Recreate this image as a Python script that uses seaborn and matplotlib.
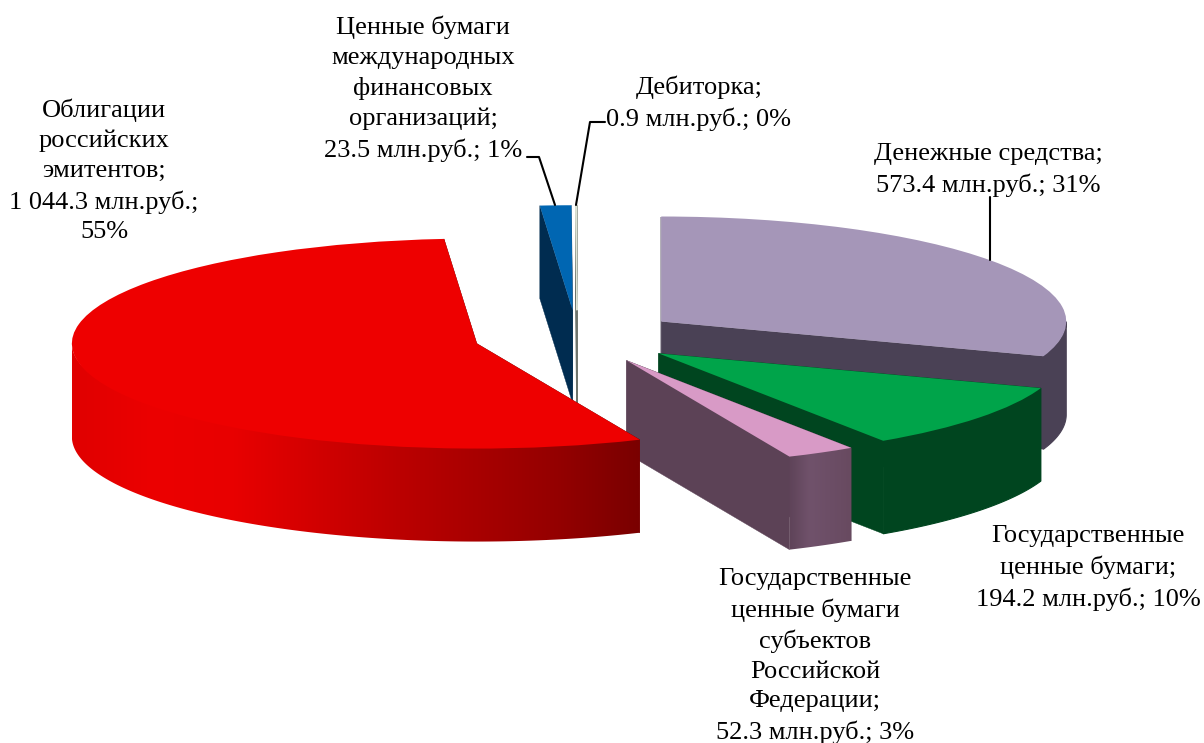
"""Exploded 3D-style pie of the asset structure, built on ax.pie with extruded walls."""

import matplotlib

matplotlib.use("Agg")
import matplotlib.pyplot as plt
import numpy as np
import seaborn as sns
from matplotlib.lines import Line2D
from matplotlib.patches import Polygon

WIDTH, HEIGHT = 1204, 743

values = [573.4, 194.2, 52.3, 1044.3, 23.5, 0.9]
labels = [
    "Денежные средства;\n573.4 млн.руб.; 31%",
    "Государственные\nценные бумаги;\n194.2 млн.руб.; 10%",
    "Государственные\nценные бумаги\nсубъектов\nРоссийской\nФедерации;\n52.3 млн.руб.; 3%",
    "Облигации\nроссийских\nэмитентов;\n1 044.3 млн.руб.;\n55%",
    "Ценные бумаги\nмеждународных\nфинансовых\nорганизаций;\n23.5 млн.руб.; 1%",
    "Дебиторка;\n0.9 млн.руб.; 0%",
]
top_colors = ["#A596B8", "#00A44A", "#D89AC6", "#EE0000", "#0066B2", "#DDE4D6"]
side_colors = ["#4A4155", "#00451F", "#5C4256", "#7A0000", "#002C50", "#6E746C"]
# wall shading, left to right, for the slices that have a lit outer wall
red_wall = ["#E00000", "#EC0000", "#E80000", "#D20000", "#BC0000", "#A80000", "#940000", "#7A0000"]
pink_wall = ["#5E4358", "#70526B", "#6C4E66", "#684A60"]
wall_shades = {2: pink_wall, 3: red_wall}
draw_order = [4, 5, 0, 1, 2, 3]

# label centres and leader lines, in picture pixels
label_pos = [(988, 170), (1088, 568), (815, 656), (104, 171), (423, 89), (699, 103)]
leaders = [
    [(990, 197), (990, 260)],
    [(527, 157), (539, 157), (555, 205)],
    [(605, 122), (590, 122), (576, 205)],
]

EXPLODE = 0.255
RX, RY = 405, 105  # pixels per pie radius
CX, CY = 577, 337
DEPTH = 93 / RY

sns.set_theme(style="white")
plt.rcParams["font.family"] = ["Liberation Serif", "DejaVu Serif"]

fig = plt.figure(figsize=(WIDTH / 100, HEIGHT / 100), dpi=100, facecolor="white")
ax = fig.add_axes([0, 0, 1, 1])
wedges, _ = ax.pie(
    values,
    explode=[EXPLODE] * len(values),
    colors=top_colors,
    startangle=90,
    counterclock=False,
    wedgeprops={"linewidth": 0},
)


def extrude(idx, wedge, z):
    cx, cy = wedge.center
    t1, t2 = np.radians(wedge.theta1), np.radians(wedge.theta2)
    side = side_colors[idx]
    lw = 0.9 if values[idx] < 5 else 0.3

    # the two cut faces
    for t in (t1, t2):
        ex, ey = cx + np.cos(t), cy + np.sin(t)
        ax.fill([cx, ex, ex, cx], [cy, ey, ey - DEPTH, cy - DEPTH],
                color=side, lw=lw, zorder=z)

    # outer wall, only the half turned towards the viewer
    angles = np.linspace(t1, t2, 400)
    angles = angles[np.sin(angles) <= 0]
    if len(angles) < 2:
        return
    xs, ys = cx + np.cos(angles), cy + np.sin(angles)
    wall_x = np.r_[xs, xs[::-1]]
    wall_y = np.r_[ys, ys[::-1] - DEPTH]
    shades = wall_shades.get(idx)
    if shades is None:
        ax.fill(wall_x, wall_y, color=side, lw=0.8, zorder=z)
        return
    # shaded wall: a horizontal gradient cut to the wall outline, running a
    # little way under the top face (tapering out at both ends) so no seam shows
    cmap = sns.blend_palette(shades, as_cmap=True)
    image = ax.imshow(
        np.linspace(0, 1, 512)[None, :],
        extent=[xs.min(), xs.max(), wall_y.min(), cy],
        cmap=cmap, aspect="auto", interpolation="bilinear", zorder=z,
    )
    taper = np.sin(np.linspace(0, np.pi, len(xs)))
    inner_y = ys + 0.03 * taper
    outline = np.c_[np.r_[xs, xs[::-1]], np.r_[inner_y, ys[::-1] - DEPTH]]
    image.set_clip_path(Polygon(outline, closed=True, transform=ax.transData))


for rank, idx in enumerate(draw_order):
    z = 2 + rank * 2
    extrude(idx, wedges[idx], z)
    wedges[idx].set_zorder(z + 1)
    if values[idx] < 5:
        wedges[idx].set_edgecolor(top_colors[idx])
        wedges[idx].set_linewidth(0.9)

ax.set_aspect("auto")
ax.set_xlim(-CX / RX, (WIDTH - CX) / RX)
ax.set_ylim((CY - HEIGHT) / RY, CY / RY)
ax.axis("off")

for text, (px, py) in zip(labels, label_pos):
    fig.text(px / WIDTH, 1 - py / HEIGHT, text, ha="center", va="center",
             fontsize=19, linespacing=1.445, color="black", zorder=30)

for points in leaders:
    xs = [p[0] / WIDTH for p in points]
    ys = [1 - p[1] / HEIGHT for p in points]
    fig.add_artist(Line2D(xs, ys, color="black", lw=1.5, zorder=30))

fig.savefig("out.png", dpi=100, facecolor="white")
